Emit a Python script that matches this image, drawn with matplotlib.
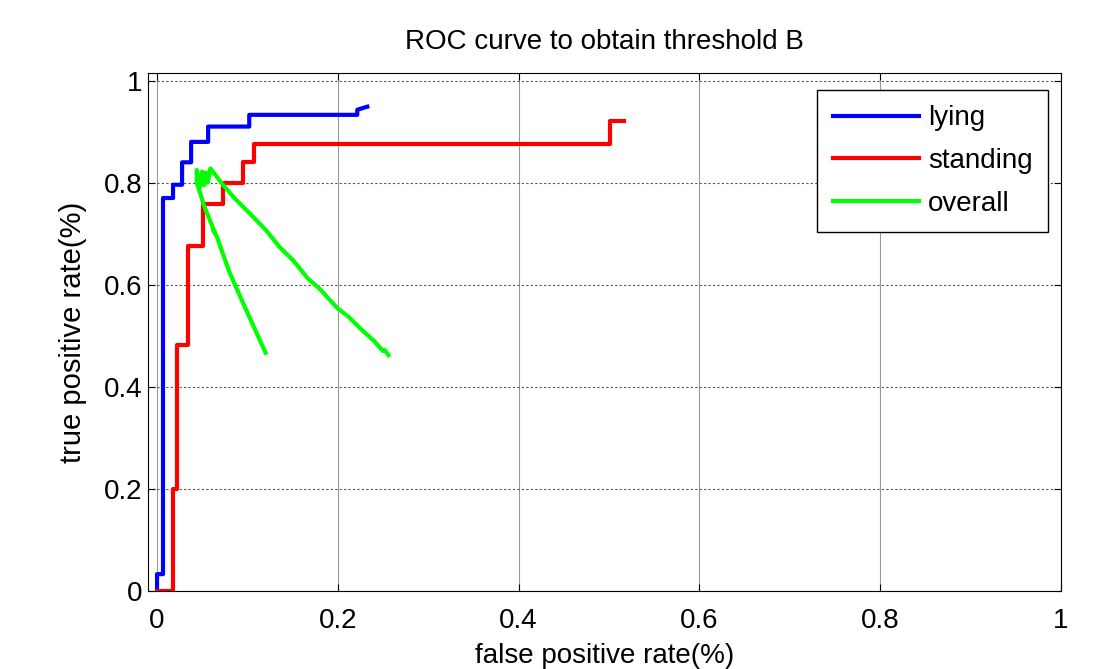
import numpy as np
import matplotlib
matplotlib.use('Agg')
import matplotlib.pyplot as plt
from matplotlib.ticker import FormatStrFormatter

plt.rcParams['font.family'] = ['Liberation Sans', 'DejaVu Sans']

# lying (blue) step curve
fpr_lying = [0.0, 0.0, 0.0066, 0.0066, 0.0177, 0.0177, 0.0277, 0.0277, 0.0377, 0.0377,
             0.0565, 0.0565, 0.102, 0.102, 0.2215, 0.2215, 0.2326]
tpr_lying = [0.0, 0.033, 0.033, 0.77, 0.77, 0.796, 0.796, 0.84, 0.84, 0.88,
             0.88, 0.91, 0.91, 0.933, 0.933, 0.943, 0.949]

# standing (red) step curve
fpr_standing = [0.0, 0.0177, 0.0177, 0.022, 0.022, 0.034, 0.034, 0.051, 0.051, 0.073,
                0.073, 0.095, 0.095, 0.107, 0.107, 0.5006, 0.5006, 0.516]
tpr_standing = [0.0, 0.0, 0.2, 0.2, 0.482, 0.482, 0.676, 0.676, 0.759, 0.759,
                0.80, 0.80, 0.84, 0.84, 0.876, 0.876, 0.92, 0.92]

# overall (green)
fpr_overall = [0.120, 0.100, 0.080, 0.066, 0.062, 0.064, 0.052, 0.044, 0.044, 0.047,
               0.050, 0.052, 0.054, 0.056, 0.059, 0.072, 0.086, 0.103, 0.120, 0.136,
               0.151, 0.167, 0.180, 0.199, 0.212, 0.225, 0.240, 0.250, 0.252, 0.256]
tpr_overall = [0.467, 0.545, 0.625, 0.695, 0.708, 0.702, 0.755, 0.80, 0.825, 0.79,
               0.822, 0.795, 0.82, 0.80, 0.828, 0.798, 0.769, 0.739, 0.708, 0.673,
               0.647, 0.612, 0.592, 0.555, 0.537, 0.514, 0.49, 0.47, 0.472, 0.462]

fig = plt.figure(figsize=(11.07, 6.69), dpi=100)
ax = fig.add_axes([0.1337, 0.1166, 0.8248, 0.7743])

ax.plot(fpr_lying, tpr_lying, color='#0000ff', lw=3, label='lying')
ax.plot(fpr_standing, tpr_standing, color='#ff0000', lw=3, label='standing')
ax.plot(fpr_overall, tpr_overall, color='#00ff00', lw=3, label='overall')

ax.set_xlim(-0.01, 1.0)
ax.set_ylim(0, 1.015)
ax.set_xticks([0, 0.2, 0.4, 0.6, 0.8, 1])
ax.set_yticks([0, 0.2, 0.4, 0.6, 0.8, 1])
ax.xaxis.set_major_formatter(FormatStrFormatter('%g'))
ax.yaxis.set_major_formatter(FormatStrFormatter('%g'))
ax.tick_params(direction='in', top=True, right=True, labelsize=20, length=5)
ax.tick_params(axis='x', pad=12)
ax.tick_params(axis='y', pad=4)
ax.xaxis.grid(True, color='#999999', linestyle='-', linewidth=0.8)
ax.yaxis.grid(True, color='#555555', linestyle=(0, (2, 2)), linewidth=0.8)

ax.set_title('ROC curve to obtain threshold B', fontsize=20, pad=17)
ax.set_xlabel('false positive rate(%)', fontsize=20, labelpad=7)
ax.set_ylabel('true positive rate(%)', fontsize=21, labelpad=12)

leg = ax.legend(loc='upper right', fontsize=20, fancybox=False, framealpha=1,
                edgecolor='black', handlelength=3.1, handletextpad=0.35,
                labelspacing=0.6, borderpad=0.55, borderaxespad=0,
                bbox_to_anchor=(0.986, 0.967))
leg.get_frame().set_linewidth(1.0)

fig.savefig('out.png', dpi=100)
